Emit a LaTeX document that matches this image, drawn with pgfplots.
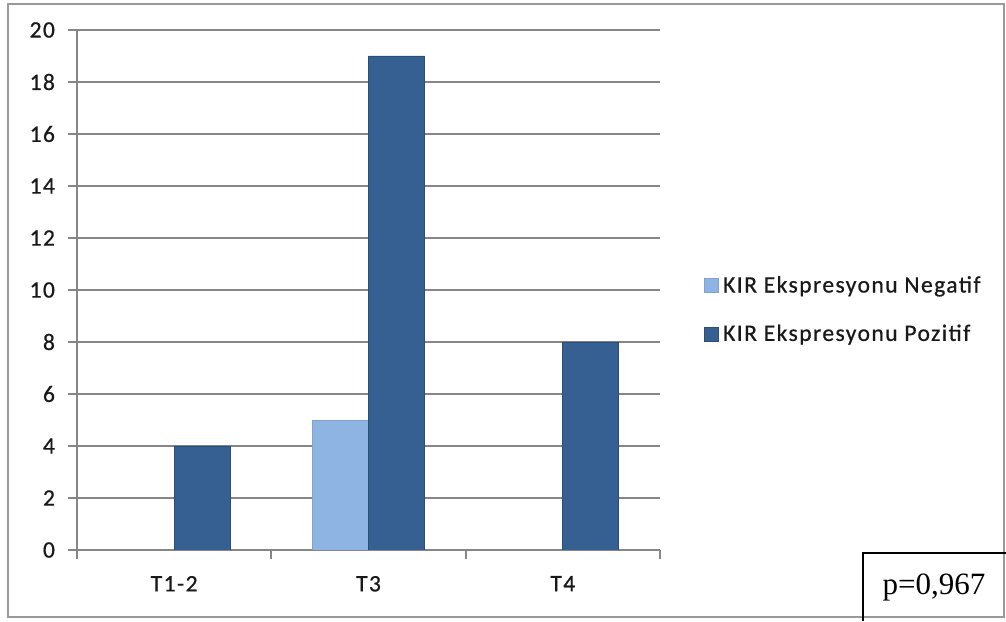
\documentclass[border=0pt]{standalone}
\usepackage{fontspec}
\setmainfont{Carlito}[LetterSpace=6, FakeBold=0.6]
\newfontfamily\serif{Liberation Serif}
\usepackage{pgfplots}
\pgfplotsset{compat=1.18}
\definecolor{neg}{RGB}{142,180,227}
\definecolor{pos}{RGB}{55,96,146}
\definecolor{gridc}{RGB}{134,134,134}
\pgfplotsset{sqlegend/.style={legend image code/.code={\fill[##1] (0pt,-3.5pt) rectangle (7pt,3.5pt);}}}
\begin{document}
\begin{tikzpicture}
\useasboundingbox (0,0) rectangle (503pt,310.5pt);
\fill[white] (0,0) rectangle (503pt,310.5pt);
\draw[gray!80, line width=1pt] (4pt,2pt) rectangle (502pt,308.5pt);
\begin{axis}[
  at={(38.5pt,35.5pt)}, anchor=south west,
  scale only axis, width=291.5pt, height=260pt,
  xmin=0, xmax=3, ymin=0, ymax=20,
  ytick={0,2,...,20},
  xtick={0,1,2,3}, xticklabels={},
  extra x ticks={0.5,1.5,2.5},
  extra x tick labels={T1-2,T3,T4},
  extra x tick style={major tick length=0pt},
  axis x line=bottom, axis y line=left,
  axis line style={-, gridc, line width=1pt},
  tick align=outside, major tick length=4.5pt,
  tick style={gridc, line width=1pt},
  ymajorgrids, grid style={gridc, line width=1pt},
  ybar=0pt, bar width=28pt,
  /pgf/number format/assume math mode=true,
  tick label style={font=\fontsize{11.8}{13}\selectfont, text=black!90},
  xticklabel style={yshift=-9.5pt},
  yticklabel style={xshift=-3pt},
  legend style={at={(1.065,0.4615)}, anchor=west, draw=none, fill=none,
    font=\fontsize{11.8}{13}\selectfont, row sep=10.5pt, text=black!90},
  legend cell align=left,
]
\addplot[fill=neg, draw=neg!90!black, sqlegend] coordinates {(1.5,5)};
\addlegendentry{KIR Ekspresyonu Negatif}
\addplot[fill=pos, draw=pos!80!black, sqlegend] coordinates {(0.5,4) (1.5,19) (2.5,8)};
\addlegendentry{KIR Ekspresyonu Pozitif}
\end{axis}
\draw[line width=0.8pt] (431.5pt,0pt) -- (431.5pt,34pt) -- (504pt,34pt);
\node[anchor=base, font=\serif\fontsize{15.5}{17}\selectfont] at (467pt,13pt) {p=0,967};
\end{tikzpicture}
\end{document}
